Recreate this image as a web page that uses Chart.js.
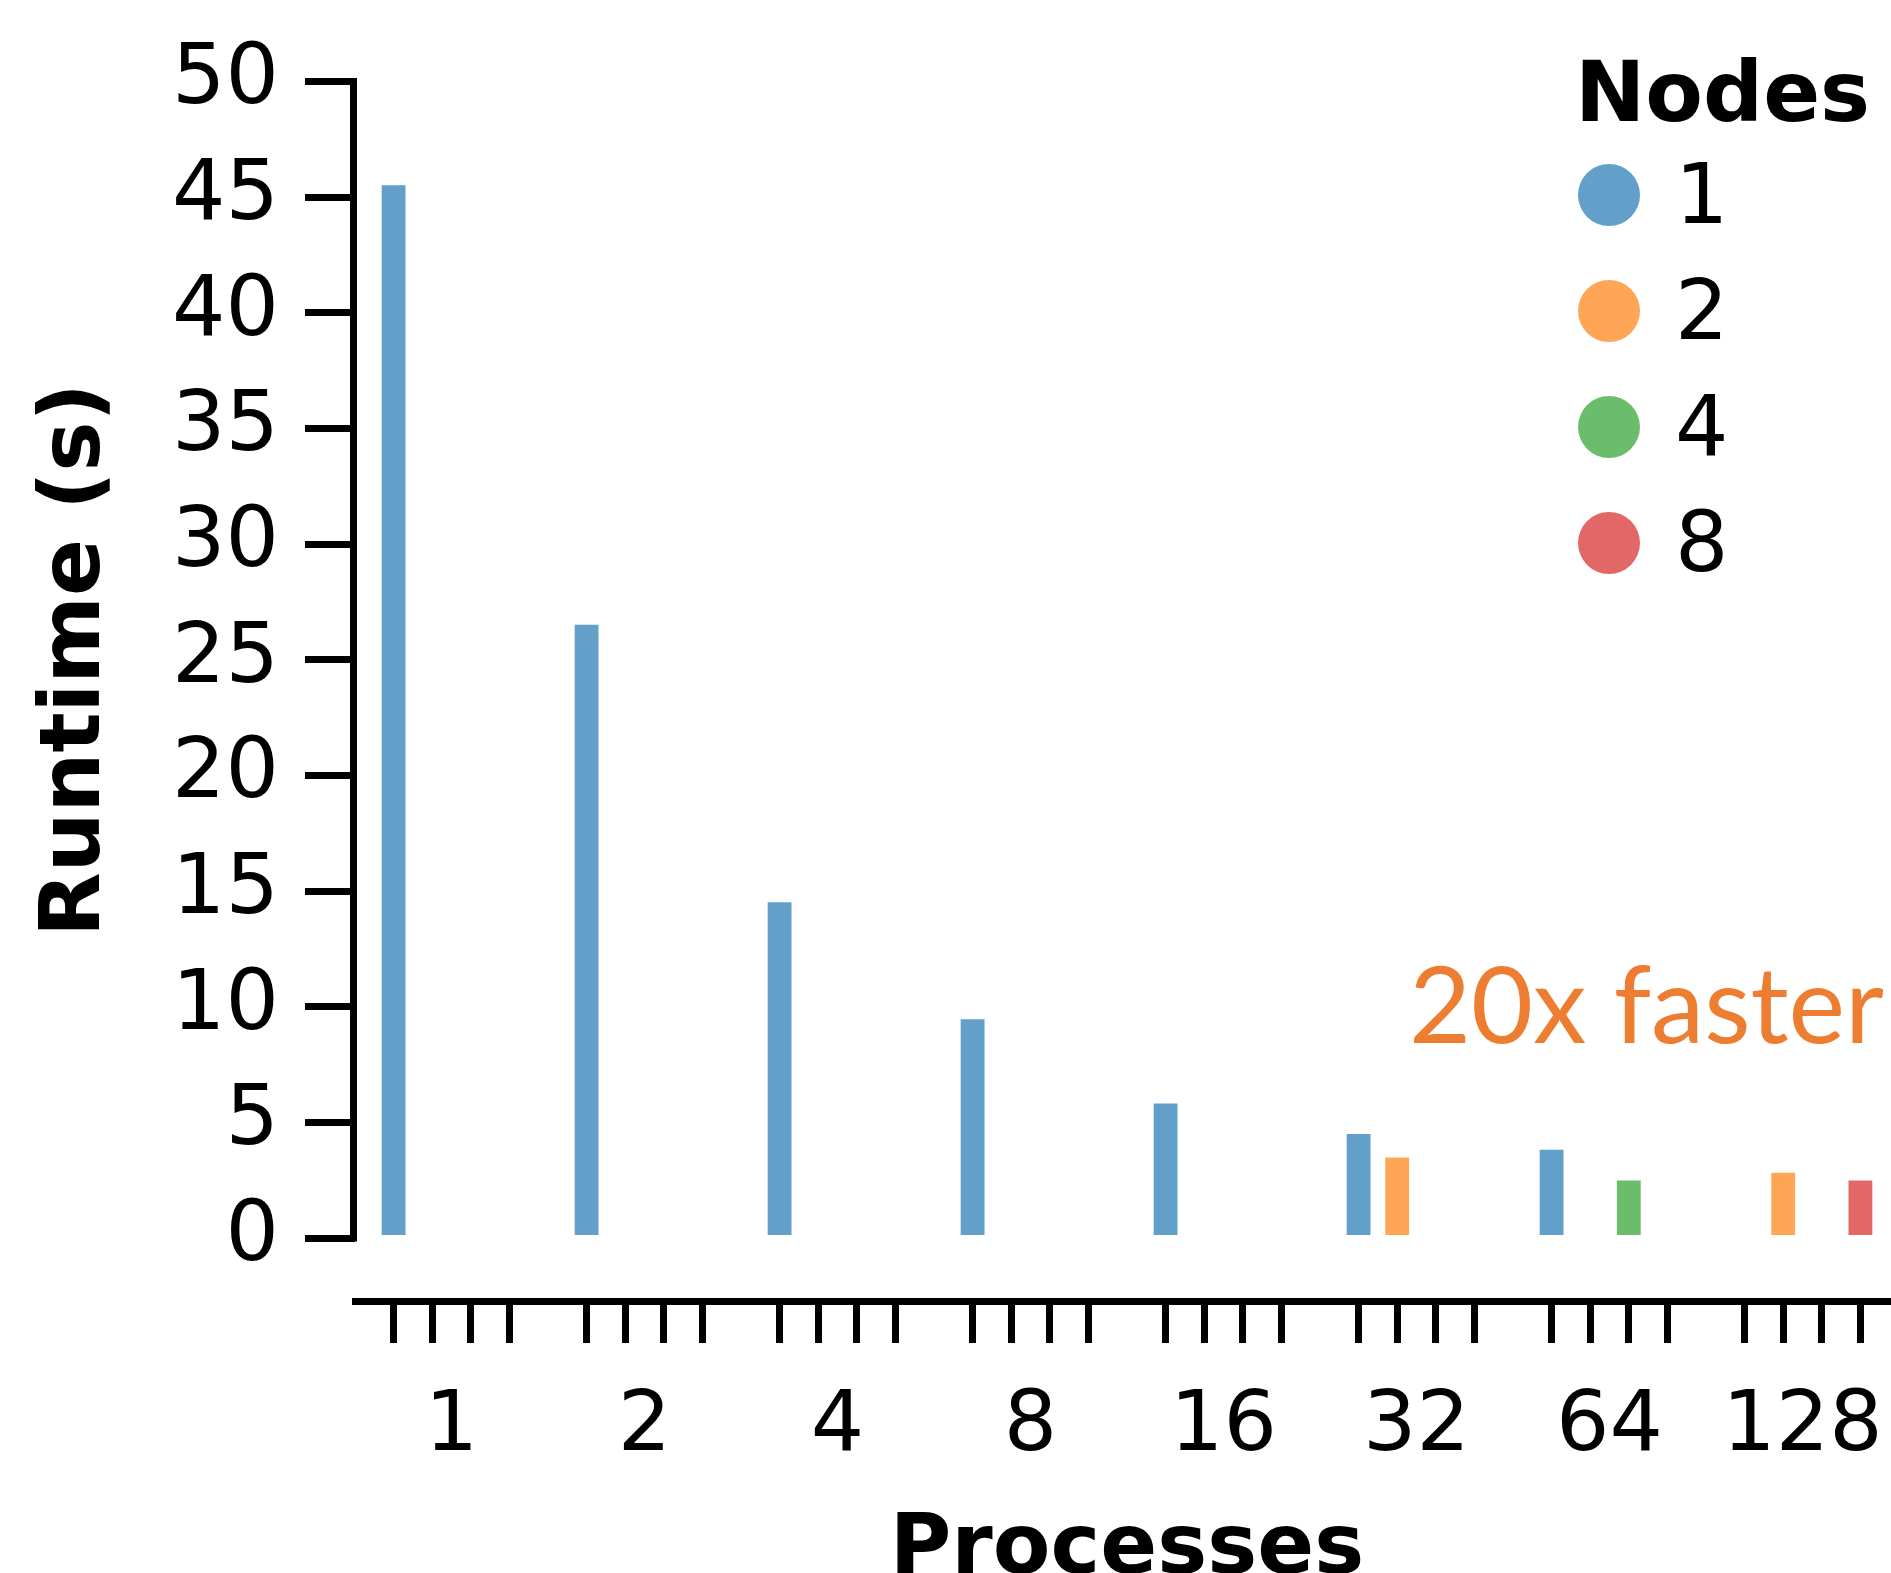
<!DOCTYPE html>
<html>
<head>
<meta charset="utf-8">
<title>Runtime vs processes</title>
<script src="https://cdn.jsdelivr.net/npm/chart.js@4.4.1/dist/chart.umd.min.js"></script>
<style>
  html, body { margin: 0; padding: 0; background: #fff; overflow: hidden; }
  #chart { display: block; }
</style>
</head>
<body>
<canvas id="chart" width="1899" height="1607"></canvas>
<script>
// x categories: number of processes
const processes = ['1', '2', '4', '8', '16', '32', '64', '128'];
// hue levels: number of nodes
const nodes = ['1', '2', '4', '8'];
// runtime (s) per node count, null where that combination was not run
const runtimeNodes1 = [45.5, 26.5, 14.5, 9.45, 5.8, 4.48, 3.8, null];
const runtimeNodes2 = [null, null, null, null, null, 3.47, null, 2.81];
const runtimeNodes4 = [null, null, null, null, null, null, 2.48, null];
const runtimeNodes8 = [null, null, null, null, null, null, null, 2.48];
// y tick labels
const yTicks = [0, 5, 10, 15, 20, 25, 30, 35, 40, 45, 50];
// position of the four node slots inside one group (4 bars in 0.8 of a category)
const slotOffsets = [-0.3, -0.1, 0.1, 0.3];

const colors = ['rgb(98,159,201)', 'rgb(255,165,86)', 'rgb(107,188,107)', 'rgb(226,104,104)'];
const series = [runtimeNodes1, runtimeNodes2, runtimeNodes4, runtimeNodes8];

Chart.defaults.font.family = "'DejaVu Sans', sans-serif";
Chart.defaults.color = '#000';

// spine, legend and the annotation text
const extras = {
    id: 'extras',
    afterDraw(chart) {
        const { ctx, chartArea } = chart;
        const y = chart.scales.y;
        ctx.save();

        // y spine only from 0 to 50 (trimmed)
        ctx.strokeStyle = '#000';
        ctx.lineWidth = 7;
        ctx.beginPath();
        ctx.moveTo(chartArea.left - 1.5, y.getPixelForValue(yTicks[yTicks.length - 1]) - 3.5);
        ctx.lineTo(chartArea.left - 1.5, y.getPixelForValue(yTicks[0]) + 3.5);
        ctx.stroke();

        // legend
        ctx.fillStyle = '#000';
        ctx.textAlign = 'left';
        ctx.textBaseline = 'alphabetic';
        ctx.font = "bold 84px 'DejaVu Sans'";
        ctx.fillText('Nodes', 1575, 121);
        ctx.font = "84px 'DejaVu Sans'";
        nodes.forEach((n, i) => {
            const cy = 195 + i * 116;
            ctx.fillStyle = colors[i];
            ctx.beginPath();
            ctx.arc(1609, cy, 31, 0, Math.PI * 2);
            ctx.fill();
            ctx.fillStyle = '#000';
            ctx.fillText(n, 1675, cy + 28);
        });

        // annotation
        ctx.font = "107px Lato";
        ctx.fillStyle = '#ED7D31';
        ctx.textAlign = 'right';
        ctx.fillText('20x faster', 1884, 1043);
        ctx.restore();
    }
};

const ctx = document.getElementById('chart').getContext('2d');
new Chart(ctx, {
    type: 'bar',
    data: {
        labels: processes,
        datasets: series.map((values, i) => ({
            label: nodes[i],
            data: values,
            backgroundColor: colors[i],
            borderWidth: 0,
            barThickness: 'flex',
            categoryPercentage: 0.8,
            barPercentage: 0.6
        }))
    },
    options: {
        responsive: false,
        animation: false,
        devicePixelRatio: 1,
        layout: { padding: { top: 19, left: 0, right: 0, bottom: 1 } },
        plugins: {
            legend: { display: false },
            tooltip: { enabled: false }
        },
        scales: {
            x: {
                type: 'category',
                offset: true,
                grid: {
                    offset: false,
                    drawOnChartArea: false,
                    tickLength: 42,
                    lineWidth: 7,
                    tickWidth: 7,
                    // no tick mark under the group label
                    tickColor: c => Number.isInteger(c.tick.value) ? 'rgba(0,0,0,0)' : '#000'
                },
                border: { display: true, color: '#000', width: 7 },
                ticks: {
                    autoSkip: false,
                    maxRotation: 0,
                    padding: 35,
                    font: { size: 84 },
                    callback: value => Number.isInteger(value) ? processes[value] : ''
                },
                title: {
                    display: true,
                    text: 'Processes',
                    font: { size: 84, weight: 'bold' },
                    padding: { top: 0, bottom: 4 }
                },
                afterBuildTicks: scale => {
                    const t = [];
                    processes.forEach((p, i) => {
                        slotOffsets.forEach(o => t.push({ value: i + o }));
                        t.push({ value: i });
                    });
                    t.sort((a, b) => a.value - b.value);
                    scale.ticks = t;
                },
                afterFit: scale => {
                    scale.height = 305;
                    scale.paddingLeft = 0;
                    scale.paddingRight = 0;
                }
            },
            y: {
                min: -2.72,
                max: 52.7,
                grid: {
                    drawOnChartArea: false,
                    tickLength: 50,
                    lineWidth: 7,
                    tickWidth: 7,
                    tickColor: '#000'
                },
                border: { display: false },
                ticks: {
                    padding: 26,
                    font: { size: 84 }
                },
                title: {
                    display: true,
                    text: 'Runtime (s)',
                    font: { size: 84, weight: 'bold' },
                    padding: { top: 27, bottom: 0 }
                },
                afterBuildTicks: scale => {
                    scale.ticks = yTicks.map(v => ({ value: v }));
                },
                afterFit: scale => {
                    scale.width = 355;
                    scale.paddingTop = 0;
                    scale.paddingBottom = 0;
                }
            }
        }
    },
    plugins: [extras]
});
</script>
</body>
</html>
